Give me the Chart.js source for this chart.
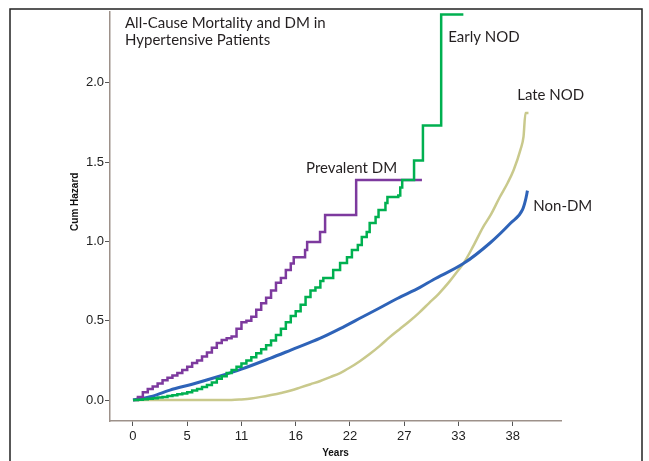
<!DOCTYPE html>
<html>
<head>
<meta charset="utf-8">
<script src="https://cdn.jsdelivr.net/npm/chart.js@4.4.1/dist/chart.umd.min.js"></script>
<style>
  html, body { margin: 0; padding: 0; background: #fff; }
  #wrap { position: relative; width: 649px; height: 461px; }
</style>
</head>
<body>
<div id="wrap"><canvas id="hazChart" width="649" height="461"></canvas></div>
<script>
// cumulative hazard by years of follow-up, one pair of arrays per group
var prevYears = [0, 0.5, 1, 1.5, 2, 2.5, 3, 3.5, 4, 4.5, 5, 5.5, 6, 6.5, 7, 7.5, 8, 8.5, 9, 9.5, 10, 10.5, 11, 11.5, 12, 12.5, 13, 13.5, 14, 14.5, 15, 15.5, 16, 16.3, 17.45, 17.66, 18.97, 19.48, 22.63, 29.3];
var prevHaz = [0, 0.02, 0.05, 0.07, 0.085, 0.105, 0.125, 0.14, 0.155, 0.17, 0.19, 0.21, 0.233, 0.25, 0.275, 0.3, 0.33, 0.36, 0.378, 0.39, 0.4, 0.45, 0.49, 0.5, 0.525, 0.57, 0.61, 0.645, 0.69, 0.74, 0.77, 0.82, 0.86, 0.9, 0.946, 0.996, 1.059, 1.166, 1.387, 1.387];

var earlyYears = [0, 0.5, 1, 1.5, 2, 2.5, 3, 3.5, 4, 4.5, 5, 5.5, 6, 6.5, 7, 7.5, 8, 8.5, 9, 9.5, 10, 10.5, 11, 11.5, 12, 12.5, 13, 13.5, 14, 14.5, 15, 15.5, 16, 16.5, 17, 17.5, 18, 18.5, 19, 19.3, 20.3, 21, 21.7, 22.2, 22.8, 23.2, 23.7, 24.0, 24.6, 24.9, 25.6, 25.8, 26.9, 27.1, 27.3, 28.5, 29.4, 31.25, 33.5];
var earlyHaz = [0, 0.002, 0.005, 0.008, 0.012, 0.016, 0.02, 0.025, 0.03, 0.036, 0.042, 0.05, 0.06, 0.07, 0.082, 0.095, 0.11, 0.135, 0.15, 0.17, 0.19, 0.21, 0.23, 0.25, 0.27, 0.295, 0.32, 0.345, 0.375, 0.41, 0.45, 0.49, 0.53, 0.56, 0.6, 0.65, 0.69, 0.71, 0.75, 0.77, 0.82, 0.864, 0.9, 0.946, 0.977, 1.028, 1.059, 1.116, 1.154, 1.198, 1.242, 1.28, 1.29, 1.34, 1.387, 1.51, 1.73, 2.43, 2.43];

var lateYears = [0, 10, 11, 12, 13, 14, 15, 16, 17, 18, 19, 20, 21, 22, 23, 24, 25, 26, 27, 28, 29, 30, 31, 32, 33, 33.5, 34.5, 35.5, 36.3, 37.2, 38, 38.6, 39.3, 39.6, 39.8, 40.1];
var lateHaz = [0, 0, 0.004, 0.01, 0.02, 0.032, 0.045, 0.06, 0.08, 0.1, 0.12, 0.145, 0.17, 0.205, 0.245, 0.29, 0.34, 0.395, 0.445, 0.495, 0.55, 0.61, 0.67, 0.74, 0.82, 0.86, 0.97, 1.09, 1.17, 1.28, 1.37, 1.45, 1.58, 1.66, 1.81, 1.81];

var nonYears = [0, 2, 3.75, 6, 8.5, 11, 13.9, 16, 19, 21, 23.3, 25, 26.8, 29.1, 30.4, 33.5, 36.2, 38.3, 39.5, 39.8, 40.0];
var nonHaz = [0, 0.025, 0.063, 0.1, 0.145, 0.195, 0.263, 0.315, 0.39, 0.45, 0.525, 0.58, 0.64, 0.71, 0.757, 0.86, 0.99, 1.116, 1.2, 1.26, 1.32];

var xTicks = [0, 5.5, 11, 16.5, 22, 27.5, 33, 38.5];
var yTicks = [0, 0.5, 1, 1.5, 2];

// text placed on the plot, in axis units
var notes = [
  { text: 'All-Cause Mortality and DM in', x: -0.81, y: 2.346 },
  { text: 'Hypertensive Patients', x: -0.81, y: 2.238 },
  { text: 'Early NOD', x: 31.96, y: 2.257 },
  { text: 'Late NOD', x: 38.96, y: 1.892 },
  { text: 'Prevalent DM', x: 17.55, y: 1.431 },
  { text: 'Non-DM', x: 40.59, y: 1.192 }
];

function pts(xs, ys) {
  return xs.map(function (x, i) { return { x: x, y: ys[i] }; });
}

var frameAndNotes = {
  id: 'frameAndNotes',
  beforeDraw: function (chart) {
    var c = chart.ctx;
    c.save();
    c.fillStyle = '#fff';
    c.fillRect(0, 0, chart.width, chart.height);
    c.strokeStyle = '#222';
    c.lineWidth = 1.5;
    c.strokeRect(10, 9, 632, 480);
    c.restore();
  },
  afterDraw: function (chart) {
    var c = chart.ctx, xs = chart.scales.x, ys = chart.scales.y;
    c.save();
    c.font = '15px Lato';
    c.fillStyle = '#231f20';
    c.textAlign = 'left';
    c.textBaseline = 'alphabetic';
    notes.forEach(function (n) {
      c.fillText(n.text, xs.getPixelForValue(n.x), ys.getPixelForValue(n.y));
    });
    // y axis title, a little above the middle of the axis
    c.translate(75, ys.getPixelForValue(1.25));
    c.rotate(-Math.PI / 2);
    c.font = 'bold 10px "Liberation Sans"';
    c.fillStyle = '#111';
    c.textAlign = 'center';
    c.textBaseline = 'middle';
    c.fillText('Cum Hazard', 0, 0);
    c.restore();
  }
};

var ctx = document.getElementById('hazChart').getContext('2d');
var hazChart = new Chart(ctx, {
  type: 'line',
  data: {
    datasets: [{
      label: 'Early NOD',
      data: pts(earlyYears, earlyHaz),
      borderColor: '#00b050',
      borderWidth: 2.5,
      stepped: 'before'
    }, {
      label: 'Prevalent DM',
      data: pts(prevYears, prevHaz),
      borderColor: '#7d3a9e',
      borderWidth: 2.5,
      stepped: 'before'
    }, {
      label: 'Non-DM',
      data: pts(nonYears, nonHaz),
      borderColor: '#2e63b8',
      borderWidth: 3,
      cubicInterpolationMode: 'monotone'
    }, {
      label: 'Late NOD',
      data: pts(lateYears, lateHaz),
      borderColor: '#c9c98c',
      borderWidth: 2.5,
      cubicInterpolationMode: 'monotone'
    }]
  },
  options: {
    responsive: false,
    animation: false,
    parsing: false,
    elements: { point: { radius: 0 }, line: { tension: 0, fill: false } },
    layout: { padding: { left: 0, top: 12, right: 88, bottom: 0 } },
    plugins: { legend: { display: false }, tooltip: { enabled: false } },
    scales: {
      x: {
        type: 'linear',
        min: -2.33,
        max: 43.4,
        afterBuildTicks: function (s) { s.ticks = xTicks.map(function (v) { return { value: v }; }); },
        afterFit: function (s) { s.height = 40; },
        ticks: {
          callback: function (v) { return Math.floor(v); },
          font: { family: 'Liberation Sans', size: 13 },
          color: '#222',
          padding: 3,
          maxRotation: 0
        },
        grid: { drawOnChartArea: false, drawTicks: true, tickLength: 5, color: '#555' },
        border: { color: '#9d918a', width: 1.5 },
        title: {
          display: true,
          text: 'Years',
          font: { family: 'Liberation Sans', size: 10, weight: 'bold' },
          color: '#111',
          padding: { top: 0, bottom: 2 }
        }
      },
      y: {
        type: 'linear',
        min: -0.132,
        max: 2.446,
        afterBuildTicks: function (s) { s.ticks = yTicks.map(function (v) { return { value: v }; }); },
        afterFit: function (s) { s.width = 110; },
        ticks: {
          callback: function (v) { return v.toFixed(1); },
          font: { family: 'Liberation Sans', size: 13 },
          color: '#222',
          padding: 1
        },
        grid: { drawOnChartArea: false, drawTicks: true, tickLength: 5, color: '#555' },
        border: { color: '#9d918a', width: 1.5 }
      }
    }
  },
  plugins: [frameAndNotes]
});
</script>
</body>
</html>
